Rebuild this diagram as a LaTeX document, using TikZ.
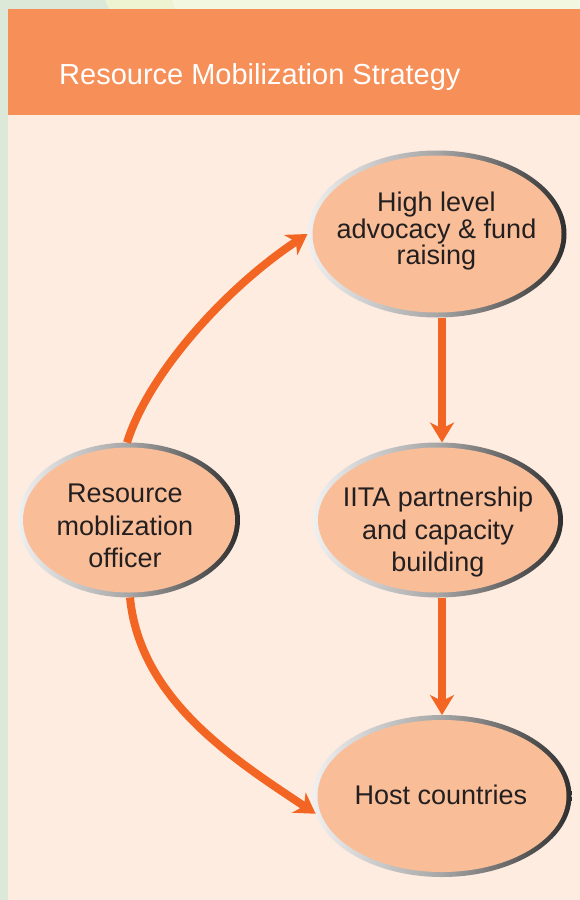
\documentclass[tikz,border=0pt]{standalone}
\usepackage{fontspec}
\setmainfont{Liberation Sans}
\usetikzlibrary{shapes, arrows.meta, calc}

\definecolor{leafgreen}{HTML}{DCE8D8}
\definecolor{paleyellow}{HTML}{EEF4D2}
\definecolor{palelime}{HTML}{F1F7E1}
\definecolor{banner}{HTML}{F68F58}
\definecolor{panel}{HTML}{FEECE0}
\definecolor{bubblefill}{HTML}{F9BE98}
\definecolor{flowcol}{HTML}{F26522}
\definecolor{inktext}{HTML}{231F20}

\tikzset{
  bubble/.style 2 args={ellipse, minimum width=#1pt, minimum height=#2pt, inner sep=0pt, outer sep=0pt,
    left color=black!6, right color=black!82, middle color=black!35,
    path picture={\fill[bubblefill] (path picture bounding box.center) ellipse [x radius=#1pt/2-5pt, y radius=#2pt/2-5pt];}},
  bubbletext/.style={text=inktext, align=center, inner sep=0pt, font=\fontsize{27}{32.5}\selectfont},
  flow/.style={draw=flowcol, line width=8pt, -{Stealth[length=20pt, width=24pt, inset=6pt]}},
}

\begin{document}
\begin{tikzpicture}[x=1pt, y=-1pt]
\useasboundingbox (0,0) rectangle (580,900);
% backdrop
\fill[palelime] (0,0) rectangle (580,900);
\fill[paleyellow] (105,0) -- (172,0) -- (175,9) -- (109,9) -- cycle;
\fill[leafgreen] (0,0) -- (105,0) -- (109,9) -- (8,9) -- (8,900) -- (0,900) -- cycle;
\fill[banner] (8,9) rectangle (580,115);
\fill[panel] (8,115) rectangle (580,900);
\node[white, anchor=base west, inner sep=0pt, font=\fontsize{29}{34}\selectfont] (title) at (59,84) {Resource Mobilization Strategy};

% the four ellipses
\node[bubble={259}{167}] (advocacy) at (437,234) {};
\node[bubble={222}{155}] (officer) at (129,520) {};
\node[bubble={250}{155}] (iita) at (438,520) {};
\node[bubble={259}{162}] (host) at (442,796) {};

\node[bubbletext, font=\fontsize{27}{26.5}\selectfont] (advocacy-t) at (436.5,231.5) {High level\\advocacy \& fund\\raising};
\node[bubbletext] (officer-t) at (125,526) {Resource\\moblization\\officer};
\node[bubbletext] (iita-t) at (438,532.5) {IITA partnership\\and capacity\\building};
\node[bubbletext] (host-t) at (441,795) {Host countries};

% arrows
\draw[flow] (advocacy.south -| host) -- (iita.north -| host);
\draw[flow] (iita.south -| host) -- (host.north);
\draw[flow] (officer.north) ++(-2,0) .. controls (150,370) and (230,285) .. (advocacy.west);
\draw[flow] (officer.south) ++(1,0) .. controls (140,700) and (235,760) .. (host.188);
\end{tikzpicture}
\end{document}
